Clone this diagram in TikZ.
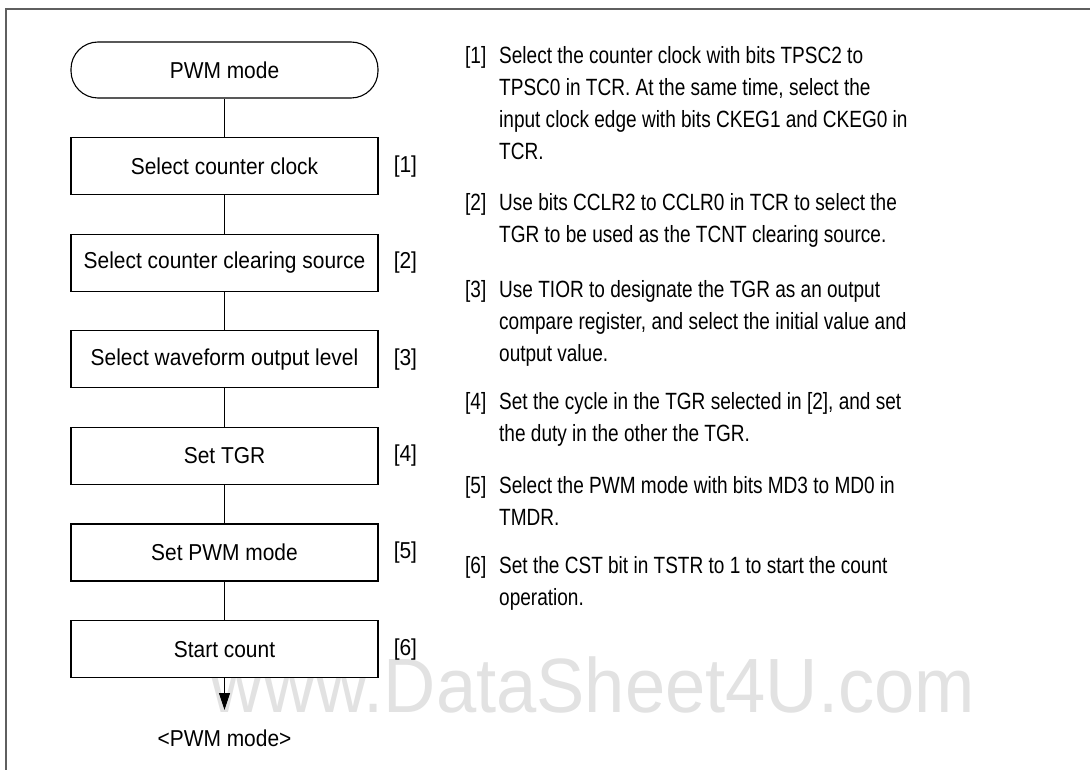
\documentclass[tikz,border=0pt]{standalone}
\usepackage{fontspec}
\setmainfont{Liberation Sans}
\newfontfamily\boxfont[FakeStretch=0.91]{Liberation Sans}
\newfontfamily\notefont[FakeStretch=0.81]{Liberation Sans}
\newfontfamily\markfont[FakeStretch=0.94]{Liberation Sans}
\usetikzlibrary{arrows.meta, positioning}
\definecolor{framegray}{RGB}{95,95,95}
\definecolor{markgray}{RGB}{226,226,226}

\begin{document}
\begin{tikzpicture}[x=1pt, y=-1pt,
  boxtext/.style={font=\boxfont\fontsize{23}{27}\selectfont},
  stepbox/.style={boxtext, draw, fill=white, line width=1.1pt, minimum width=307pt, minimum height=57pt, inner sep=0pt},
  endbox/.style={stepbox, minimum height=56pt, rounded corners=27pt},
  steplabel/.style={boxtext, inner sep=0pt},
  note/.style={anchor=base west, inner sep=0pt, font=\notefont\fontsize{23.5}{32}\selectfont},
  flow/.style={line width=1pt}]
\useasboundingbox (0,0) rectangle (1090,770);

% watermark behind everything
\node[font=\markfont\fontsize{77}{77}\selectfont, text=markgray, anchor=base] (mark) at (593,712) {www.DataSheet4U.com};

% frame
\draw[framegray, line width=1.6pt] (6,770) -- (6,9) -- (1090,9);

% flowchart
\node[endbox] (start) at (224.5,70) {PWM mode};
\node[stepbox, below=38.5pt of start] (clock) {Select counter clock};
\node[stepbox, below=38.5pt of clock] (clear) {Select counter clearing source};
\node[stepbox, below=38.5pt of clear] (wave) {Select waveform output level};
\node[stepbox, below=38.5pt of wave] (tgr) {Set TGR};
\node[stepbox, below=38.5pt of tgr] (pwm) {Set PWM mode};
\node[stepbox, below=38.5pt of pwm] (count) {Start count};
\coordinate (exit) at (224.5,710);
\node[boxtext, anchor=base] (endlbl) at (224.5,746) {<PWM mode>};

\node[steplabel, right=15pt of clock] (lbl1) {[1]};
\node[steplabel, right=15pt of clear] (lbl2) {[2]};
\node[steplabel, right=15pt of wave] (lbl3) {[3]};
\node[steplabel, right=15pt of tgr] (lbl4) {[4]};
\node[steplabel, right=15pt of pwm] (lbl5) {[5]};
\node[steplabel, right=15pt of count] (lbl6) {[6]};

\draw[flow] (start) -- (clock);
\draw[flow] (clock) -- (clear);
\draw[flow] (clear) -- (wave);
\draw[flow] (wave) -- (tgr);
\draw[flow] (tgr) -- (pwm);
\draw[flow] (pwm) -- (count);
\draw[flow, -{Triangle[length=17pt, width=11pt]}] (count) -- (exit);

% notes on the right
\node[note] (note1) at (465,64) {\begin{tabular}[t]{@{}p{34pt}@{}l@{}}
[1] & Select the counter clock with bits TPSC2 to\\
 & TPSC0 in TCR. At the same time, select the\\
 & input clock edge with bits CKEG1 and CKEG0 in\\
 & TCR.
\end{tabular}};
\node[note] (note2) at (465,211) {\begin{tabular}[t]{@{}p{34pt}@{}l@{}}
[2] & Use bits CCLR2 to CCLR0 in TCR to select the\\
 & TGR to be used as the TCNT clearing source.
\end{tabular}};
\node[note] (note3) at (465,298) {\begin{tabular}[t]{@{}p{34pt}@{}l@{}}
[3] & Use TIOR to designate the TGR as an output\\
 & compare register, and select the initial value and\\
 & output value.
\end{tabular}};
\node[note] (note4) at (465,409) {\begin{tabular}[t]{@{}p{34pt}@{}l@{}}
[4] & Set the cycle in the TGR selected in [2], and set\\
 & the duty in the other the TGR.
\end{tabular}};
\node[note] (note5) at (465,493) {\begin{tabular}[t]{@{}p{34pt}@{}l@{}}
[5] & Select the PWM mode with bits MD3 to MD0 in\\
 & TMDR.
\end{tabular}};
\node[note] (note6) at (465,573) {\begin{tabular}[t]{@{}p{34pt}@{}l@{}}
[6] & Set the CST bit in TSTR to 1 to start the count\\
 & operation.
\end{tabular}};
\end{tikzpicture}
\end{document}
